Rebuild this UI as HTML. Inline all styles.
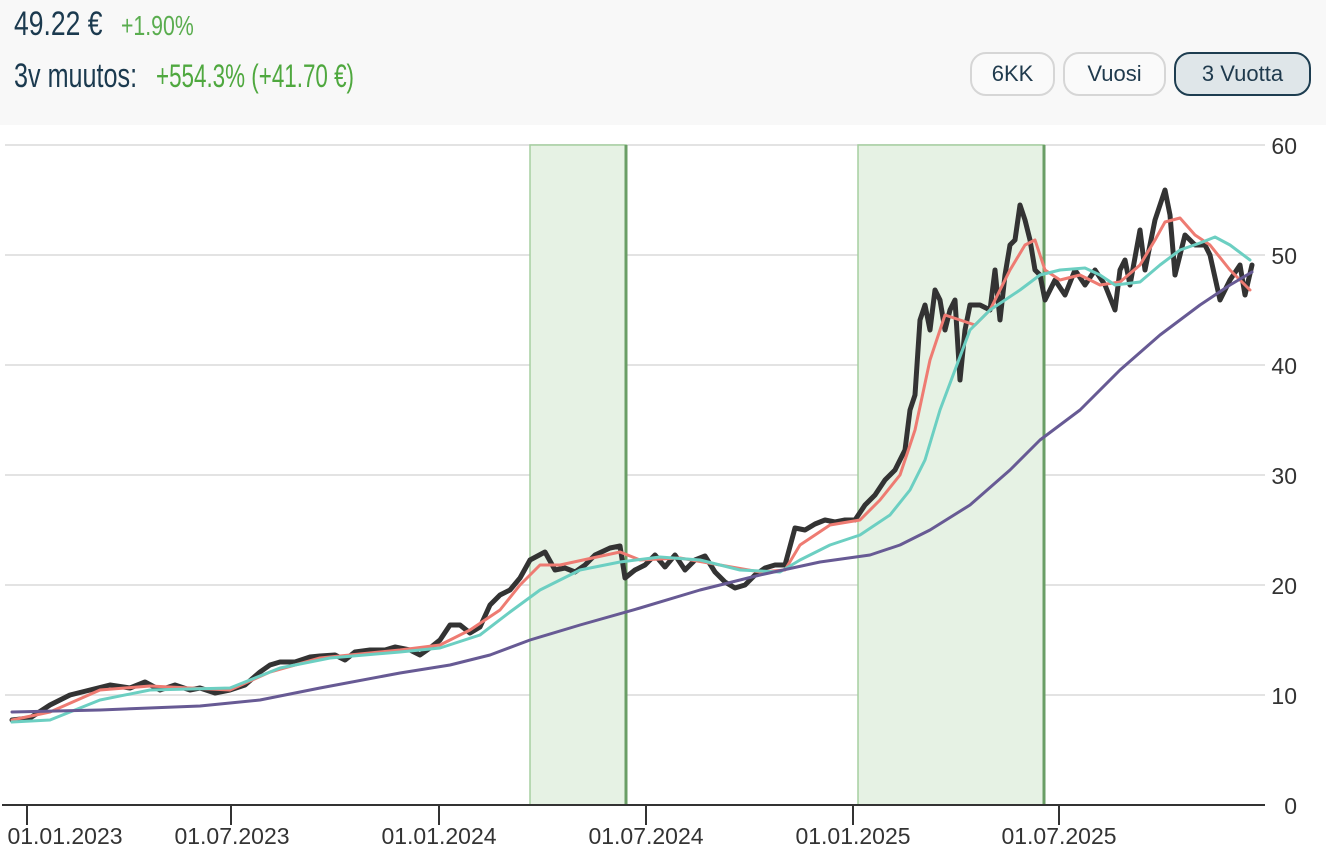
<!DOCTYPE html><html><head><style>
body{margin:0;width:1326px;height:852px;background:#fff;font-family:"Liberation Sans",sans-serif;overflow:hidden;position:relative}
.hdr{position:absolute;left:0;top:0;width:1326px;height:125px;background:#f8f8f8}
.t{position:absolute;font-family:"Liberation Sans Narrow","Liberation Sans",sans-serif;}
.btn{position:absolute;top:52px;height:44px;border:2px solid #d6d6d6;border-radius:16px;box-sizing:border-box;font-size:22px;color:#1f3a4d;text-align:center;line-height:40px;background:#fafafa}
</style></head><body>
<div class="hdr"></div>
<div class="t" style="left:14px;top:5px;font-size:34px;color:#1b3a4f;transform:scaleX(.78);transform-origin:left">49.22 €</div>
<div class="t" style="left:121px;top:10px;font-size:28px;color:#5aad4f;transform:scaleX(.76);transform-origin:left">+1.90%</div>
<div class="t" style="left:14px;top:57px;font-size:34px;color:#1b3a4f;transform:scaleX(.74);transform-origin:left">3v muutos:</div>
<div class="t" style="left:156px;top:58px;font-size:32px;color:#4fa83f;transform:scaleX(.7);transform-origin:left">+554.3% (+41.70 €)</div>
<div class="btn" style="left:970px;width:85px">6KK</div>
<div class="btn" style="left:1063px;width:103px">Vuosi</div>
<div class="btn" style="left:1174px;width:137px;border-color:#1d3d50;background:#dfe6e9">3 Vuotta</div>
<svg width="1326" height="852" style="position:absolute;left:0;top:0">
<g stroke="#e3e3e3" stroke-width="2">
<line x1="5" x2="1265" y1="145" y2="145"/><line x1="5" x2="1265" y1="255" y2="255"/><line x1="5" x2="1265" y1="365" y2="365"/><line x1="5" x2="1265" y1="475" y2="475"/><line x1="5" x2="1265" y1="585" y2="585"/><line x1="5" x2="1265" y1="695" y2="695"/></g>
<rect x="530" y="145" width="96" height="660" fill="#e6f2e4" stroke="#a5cfa0" stroke-width="1.5"/>
<line x1="626" x2="626" y1="145" y2="805" stroke="#6a9e66" stroke-width="3"/>
<rect x="858" y="145" width="186" height="660" fill="#e6f2e4" stroke="#a5cfa0" stroke-width="1.5"/>
<line x1="1044" x2="1044" y1="145" y2="805" stroke="#6a9e66" stroke-width="3"/>
<g fill="#333" font-size="23" font-family="Liberation Sans,sans-serif">
<g text-anchor="end"><text x="1297" y="154">60</text><text x="1297" y="264">50</text><text x="1297" y="374">40</text><text x="1297" y="484">30</text><text x="1297" y="594">20</text><text x="1297" y="704">10</text><text x="1297" y="814">0</text></g>
<g text-anchor="middle"><text x="65" y="844">01.01.2023</text><text x="232" y="844">01.07.2023</text><text x="439" y="844">01.01.2024</text><text x="646" y="844">01.07.2024</text><text x="853" y="844">01.01.2025</text><text x="1059" y="844">01.07.2025</text></g></g>
<line x1="2" x2="1265" y1="805" y2="805" stroke="#333" stroke-width="2"/>
<g stroke="#333" stroke-width="2"><line x1="27" x2="27" y1="805" y2="825"/><line x1="231" x2="231" y1="805" y2="825"/><line x1="439" x2="439" y1="805" y2="825"/><line x1="646" x2="646" y1="805" y2="825"/><line x1="853" x2="853" y1="805" y2="825"/><line x1="1059" x2="1059" y1="805" y2="825"/></g>
<g fill="none" stroke-linejoin="round" stroke-linecap="round">
<polyline stroke="#333" stroke-width="5" points="12,720 30,718 50,705 70,695 90,690 110,685 130,688 145,682 160,690 175,685 190,690 200,688 215,693 230,690 245,685 260,672 270,665 280,662 295,662 310,657 320,656 335,655 345,660 355,652 370,650 385,650 395,647 410,650 420,655 430,648 440,640 450,625 460,625 470,633 480,627 490,605 500,595 510,590 520,578 530,560 545,552 555,570 565,568 575,572 585,565 595,555 610,548 620,546 625,578 635,570 645,565 655,555 665,567 675,555 685,570 695,560 705,556 715,572 725,582 735,588 745,585 755,575 765,568 775,565 785,565 795,528 805,530 815,524 825,520 835,522 845,520 855,520 865,505 875,495 885,480 895,470 905,450 910,410 915,395 920,320 925,305 930,330 935,290 940,300 945,330 950,310 955,300 960,380 965,330 970,305 980,305 990,310 995,270 1000,320 1005,275 1010,245 1015,240 1020,205 1025,220 1030,240 1035,270 1040,275 1045,300 1055,280 1065,295 1075,270 1085,285 1095,270 1105,285 1115,310 1120,270 1125,260 1130,285 1140,230 1145,270 1155,220 1160,205 1165,190 1170,215 1175,275 1185,235 1195,245 1205,245 1210,255 1220,300 1230,280 1240,265 1245,295 1252,265"/>
<polyline stroke="#ee7b72" stroke-width="3" points="12,720 50,712 100,690 150,686 230,690 270,672 320,658 400,650 440,645 470,630 500,610 520,585 540,565 560,565 620,552 640,560 680,558 720,565 760,572 785,570 800,545 830,525 860,520 880,500 900,475 915,430 930,360 945,315 960,320 975,325 990,310 1010,270 1025,245 1035,240 1045,270 1060,280 1080,275 1100,285 1120,282 1140,265 1155,240 1165,222 1180,218 1195,235 1210,245 1230,270 1250,290"/>
<polyline stroke="#6ccfc2" stroke-width="3" points="12,722 50,720 100,700 150,690 230,688 280,668 330,658 400,652 440,648 480,635 510,612 540,590 580,570 620,562 660,557 700,560 740,570 780,572 800,560 830,545 860,535 890,515 910,490 925,460 940,410 955,370 970,330 990,310 1020,290 1040,275 1060,270 1085,268 1100,275 1115,285 1140,282 1160,265 1180,250 1200,243 1215,237 1230,245 1250,260"/>
<polyline stroke="#675a94" stroke-width="3" points="12,712 100,710 200,706 260,700 320,688 400,673 450,665 490,655 530,640 580,625 640,608 700,590 760,575 820,562 870,555 900,545 930,530 970,505 1010,470 1040,440 1080,410 1120,370 1160,335 1200,305 1230,285 1252,272"/>
</g></svg>
</body></html>
